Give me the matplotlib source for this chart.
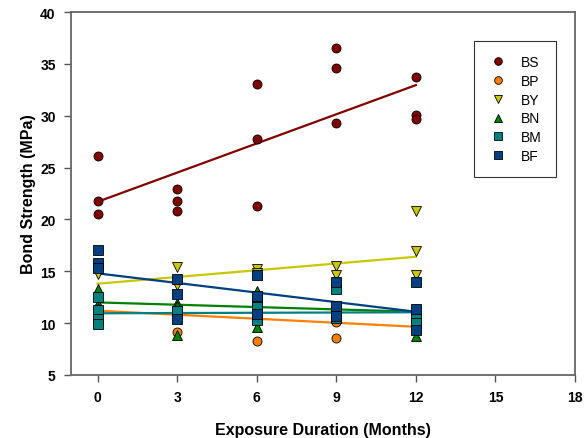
import numpy as np
import matplotlib.pyplot as plt

plt.rcParams['font.family'] = ['Liberation Sans', 'DejaVu Sans']

months = [0, 3, 6, 9, 12]

bs = [[26.1, 21.8, 20.5], [22.9, 21.8, 20.8], [33.1, 27.8, 21.3], [36.5, 34.6, 29.3], [33.7, 30.1, 29.7]]
bp = [[11.5, 11.2], [11.2, 9.1], [10.3, 8.3], [10.1, 8.6], [10.2, 9.7]]
by = [[14.7], [15.4, 13.7, 11.2], [15.2, 14.8], [15.5, 14.6], [20.8, 17.0, 14.6]]
bn = [[13.3, 11.8, 11.5], [11.9, 11.7, 8.9], [13.1, 9.6], [11.2], [10.9, 8.8]]
bm = [[12.5, 11.3, 10.4, 9.9], [11.2], [12.0, 11.6, 10.3], [13.3, 10.5], [10.5, 10.0]]
bf = [[17.1, 15.8, 15.3], [14.3, 12.8, 10.4], [14.6, 12.6, 10.9], [14.0, 11.7, 10.7], [14.0, 11.4, 9.3]]

# fitted line values at 0 and 12 months
fit_x = [0, 12]
fit_bs = [21.7, 32.95]
fit_bp = [11.2, 9.65]
fit_by = [13.8, 16.4]
fit_bn = [12.0, 11.1]
fit_bm = [10.95, 11.05]
fit_bf = [14.8, 11.1]

names = ['BS', 'BP', 'BY', 'BN', 'BM', 'BF']
data = [bs, bp, by, bn, bm, bf]
fits = [fit_bs, fit_bp, fit_by, fit_bn, fit_bm, fit_bf]
colors = ['#800000', '#ff8000', '#c8c800', '#008000', '#008080', '#004080']
markers = ['o', 'o', 'v', '^', 's', 's']

fig = plt.figure(figsize=(5.86, 4.39), dpi=100)
ax = fig.add_axes([71 / 586, 1 - 376 / 439, (575 - 71) / 586, (376 - 13) / 439])

handles = []
for name, d, f, c, m in zip(names, data, fits, colors, markers):
    ax.plot(fit_x, f, color=c, lw=1.6, zorder=2)
for name, d, f, c, m in zip(names, data, fits, colors, markers):
    xs = [months[i] for i in range(len(d)) for _ in d[i]]
    ys = [v for grp in d for v in grp]
    h, = ax.plot(xs, ys, ls='none', marker=m, ms=6.5, mfc=c, mec='black', mew=0.6,
                 label=name, zorder=3)
    handles.append(h)

ax.set_xlim(-1, 18)
ax.set_ylim(5, 40)
ax.set_xticks([0, 3, 6, 9, 12, 15, 18])
ax.set_yticks([5, 10, 15, 20, 25, 30, 35, 40])
ax.tick_params(direction='out', length=5, width=1, colors='#555555', labelcolor='black',
               labelsize=10, pad=6)
for lab in ax.get_xticklabels() + ax.get_yticklabels():
    lab.set_fontweight('bold')
for s in ax.spines.values():
    s.set_color('#666666')
    s.set_linewidth(1.3)

ax.set_xlabel('Exposure Duration (Months)', fontsize=11.5, fontweight='bold', labelpad=13)
ax.set_ylabel('Bond Strength (MPa)', fontsize=11.5, fontweight='bold', labelpad=3)

leg = ax.legend(handles=handles, loc='upper left', bbox_to_anchor=((474 - 71) / 504, 1 - (42 - 13) / 363),
                frameon=True, fancybox=False, edgecolor='black', fontsize=10,
                handlelength=1.5, handletextpad=0.9, labelspacing=0.35, borderpad=1.0,
                borderaxespad=0, markerscale=0.85)
leg.get_frame().set_linewidth(0.8)

fig.savefig('out.png', dpi=100)
